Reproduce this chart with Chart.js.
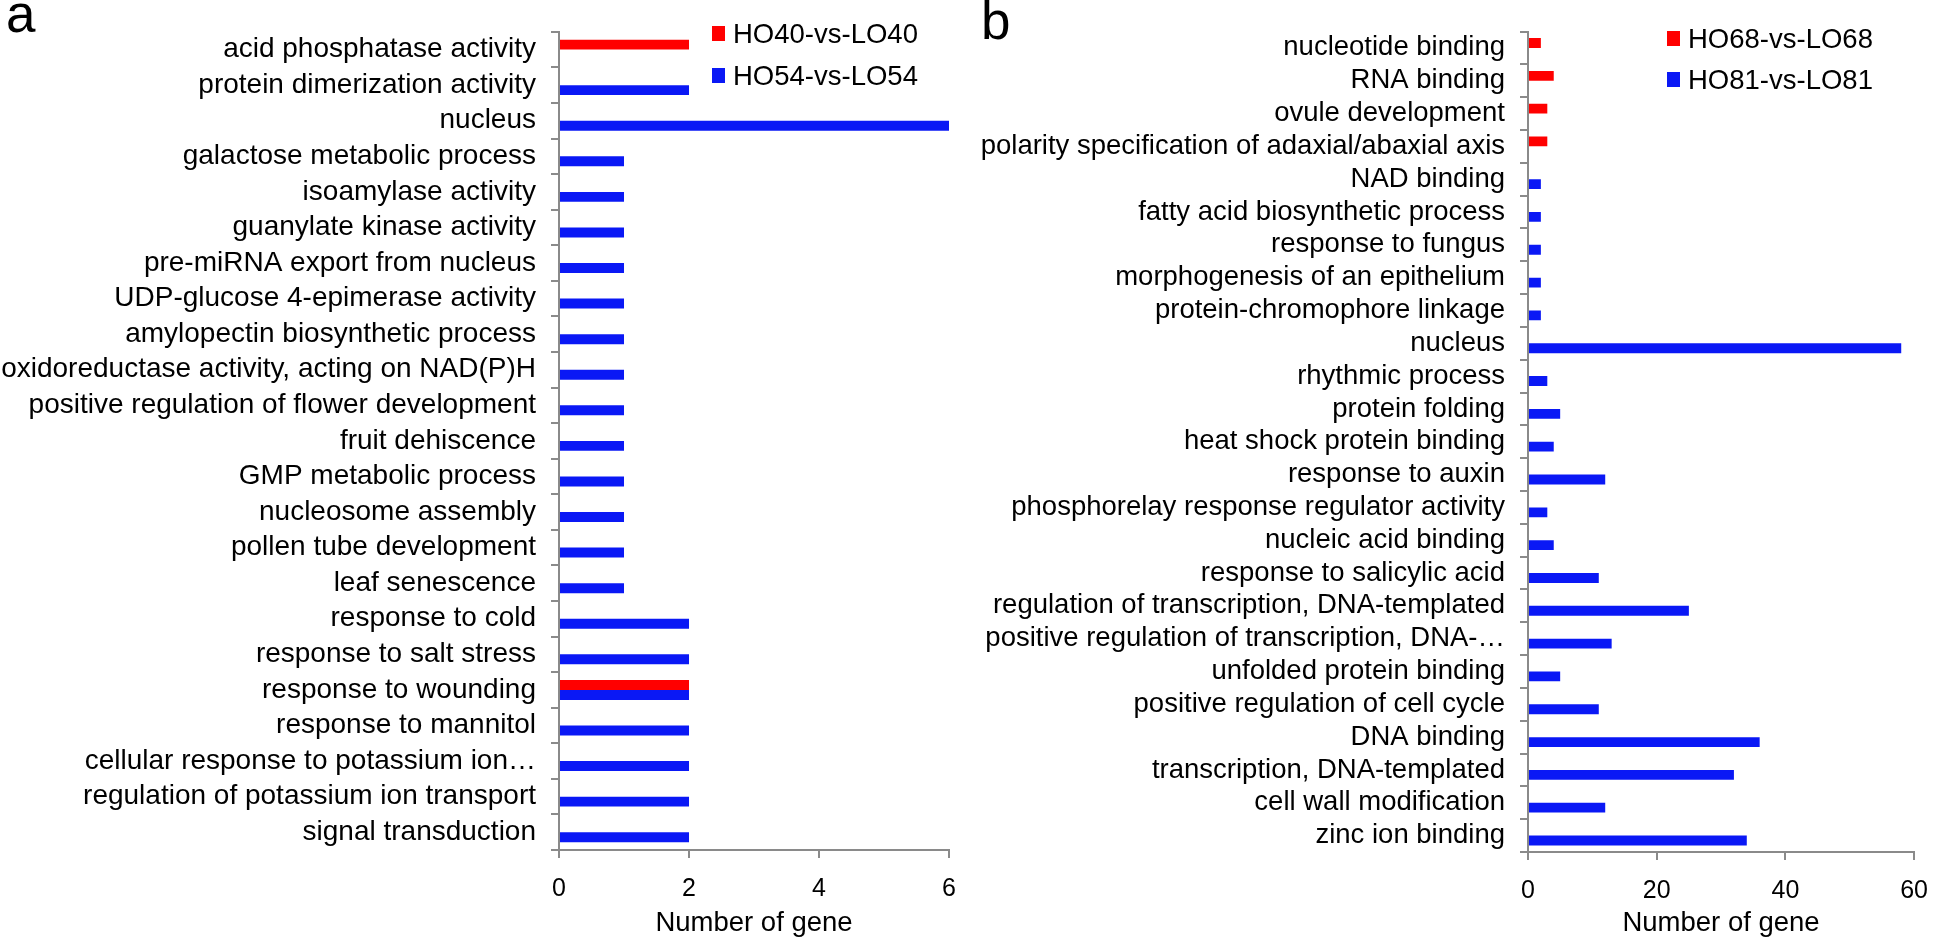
<!DOCTYPE html>
<html>
<head>
<meta charset="utf-8">
<title>GO enrichment bars</title>
<script src="https://cdn.jsdelivr.net/npm/chart.js@4.4.1/dist/chart.umd.min.js"></script>
<style>
  body { margin: 0; background: #fff; width: 1944px; height: 937px; overflow: hidden; position: relative;
         font-family: "Liberation Sans", Arial, sans-serif; }
  canvas { position: absolute; top: 0; }
  .panel { position: absolute; font-size: 53px; line-height: 53px; color: #000; }
  .leg { position: absolute; font-size: 27.5px; line-height: 30px; color: #000; white-space: nowrap; }
  .leg i { position: absolute; width: 13px; height: 15px; }
</style>
</head>
<body>
<div class="panel" style="left:6px; top:-13px;">a</div>
<div class="panel" style="left:981px; top:-6px;">b</div>
<canvas id="chartA" width="972" height="937" style="left:0px"></canvas>
<canvas id="chartB" width="972" height="937" style="left:972px"></canvas>
<script>
// panel a
const catsA = [
  "acid phosphatase activity", "protein dimerization activity", "nucleus",
  "galactose metabolic process", "isoamylase activity", "guanylate kinase activity",
  "pre-miRNA export from nucleus", "UDP-glucose 4-epimerase activity",
  "amylopectin biosynthetic process", "oxidoreductase activity, acting on NAD(P)H",
  "positive regulation of flower development", "fruit dehiscence", "GMP metabolic process",
  "nucleosome assembly", "pollen tube development", "leaf senescence", "response to cold",
  "response to salt stress", "response to wounding", "response to mannitol",
  "cellular response to potassium ion…", "regulation of potassium ion transport",
  "signal transduction"
];
const seriesA = ["HO40-vs-LO40", "HO54-vs-LO54"];
const redA  = [2, null, null, null, null, null, null, null, null, null, null, null, null, null, null, null, null, null, 2, null, null, null, null];
const blueA = [null, 2, 6, 1, 1, 1, 1, 1, 1, 1, 1, 1, 1, 1, 1, 1, 2, 2, 2, 2, 2, 2, 2];
const ticksA = { max: 6, step: 2 };

// panel b
const catsB = [
  "nucleotide binding", "RNA binding", "ovule development",
  "polarity specification of adaxial/abaxial axis", "NAD binding",
  "fatty acid biosynthetic process", "response to fungus", "morphogenesis of an epithelium",
  "protein-chromophore linkage", "nucleus", "rhythmic process", "protein folding",
  "heat shock protein binding", "response to auxin", "phosphorelay response regulator activity",
  "nucleic acid binding", "response to salicylic acid", "regulation of transcription, DNA-templated",
  "positive regulation of transcription, DNA-…", "unfolded protein binding",
  "positive regulation of cell cycle", "DNA binding", "transcription, DNA-templated",
  "cell wall modification", "zinc ion binding"
];
const seriesB = ["HO68-vs-LO68", "HO81-vs-LO81"];
const redB  = [2, 4, 3, 3, null, null, null, null, null, null, null, null, null, null, null, null, null, null, null, null, null, null, null, null, null];
const blueB = [null, null, null, null, 2, 2, 2, 2, 2, 58, 3, 5, 4, 12, 3, 4, 11, 25, 13, 5, 11, 36, 32, 12, 34];
const ticksB = { max: 60, step: 20 };

const RED = "#ff0000";
const BLUE = "#0a18f5";
const AXIS = "#8a8a8a";
const FONT = "'Liberation Sans', Arial, sans-serif";

function makeChart(id, cats, series, red, blue, tk, o) {
  return new Chart(document.getElementById(id), {
    type: "bar",
    data: {
      labels: cats,
      datasets: [
        { label: series[0], data: red, backgroundColor: RED, barPercentage: 1, categoryPercentage: o.cat },
        { label: series[1], data: blue, backgroundColor: BLUE, barPercentage: 1, categoryPercentage: o.cat }
      ]
    },
    options: {
      indexAxis: "y",
      responsive: false,
      animation: false,
      layout: { padding: { top: o.top, right: o.right, left: 0, bottom: 0 } },
      plugins: { legend: { display: false }, tooltip: { enabled: false } },
      scales: {
        y: {
          grid: { drawOnChartArea: false, offset: true, tickLength: 8, color: AXIS, lineWidth: 2 },
          border: { color: AXIS, width: 2 },
          ticks: { autoSkip: false, color: "#000", padding: 15, font: { family: FONT, size: o.fs } },
          afterFit: s => { s.width = o.yw; }
        },
        x: {
          min: 0, max: tk.max,
          grid: { drawOnChartArea: false, tickLength: 8, color: AXIS, lineWidth: 2 },
          border: { color: AXIS, width: 2 },
          ticks: { stepSize: tk.step, color: "#000", padding: 16, font: { family: FONT, size: 25 } },
          title: { display: true, text: "Number of gene", color: "#000", padding: { top: 0, bottom: 0 },
                   font: { family: FONT, size: 27.5, lineHeight: 1 } },
          afterFit: s => { s.height = o.xh; }
        }
      }
    }
  });
}

function addLegend(chart, left, tops) {
  chart.data.datasets.forEach((ds, i) => {
    const d = document.createElement("div");
    d.className = "leg";
    d.style.left = left + "px";
    d.style.top = (tops[i] - 15) + "px";
    d.innerHTML = '<i style="left:0;top:7px;background:' + ds.backgroundColor + '"></i>' +
                  '<span style="position:absolute;left:21px;top:0">' + ds.label + '</span>';
    document.body.appendChild(d);
  });
}

const chartA = makeChart("chartA", catsA, seriesA, redA, blueA, ticksA,
  { cat: 0.56, top: 22, right: 21, yw: 559, xh: 87, fs: 28 });
const chartB = makeChart("chartB", catsB, seriesB, redB, blueB, ticksB,
  { cat: 0.6, top: 23, right: 17, yw: 556, xh: 85, fs: 27.5 });

addLegend(chartA, 712, [34, 76]);
addLegend(chartB, 1667, [39, 80]);
</script>
</body>
</html>
